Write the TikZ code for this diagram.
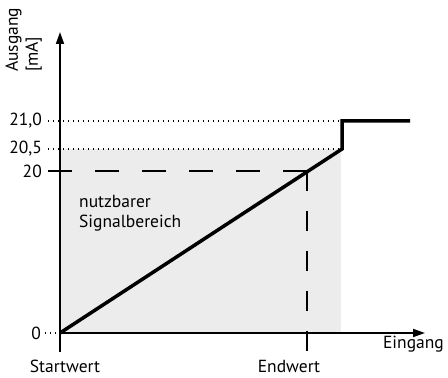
\documentclass[tikz,border=0pt]{standalone}
\usepackage{fontspec}
\setmainfont{PT Sans}
\usetikzlibrary{arrows.meta}
\definecolor{area}{RGB}{235,236,235}

\begin{document}
\begin{tikzpicture}[x=1pt,y=1pt,>={Triangle[length=12pt,width=8pt]}]

\tikzstyle{axis}=[draw=black,line width=1.7pt]
\tikzstyle{curve}=[draw=black,line width=3.5pt,line join=miter]
\tikzstyle{guide}=[draw=black,line width=1.6pt,dash pattern=on 24pt off 23pt]
\tikzstyle{guide v}=[draw=black,line width=1.6pt,dash pattern=on 20pt off 20pt]
\tikzstyle{level}=[draw=black,line width=1.3pt,dash pattern=on 1.3pt off 3.7pt]
\tikzstyle{lbl}=[font=\fontsize{17.5}{20}\selectfont,inner sep=0pt]

\useasboundingbox (0,0) rectangle (448,378);
\fill[area] (60,45) rectangle (341,229);

\coordinate (o)      at (60,45);
\coordinate (ytip)   at (60,346);
\coordinate (xtip)   at (425,45);
\coordinate (tick)   at (60,26);
\coordinate (kneelo) at (342,229);
\coordinate (kneehi) at (342,257);
\coordinate (flat)   at (410,257);
\coordinate (end)    at (307,207);
\coordinate (endlo)  at (307,26);

\node[lbl,anchor=east] (l21)  at (42,257) {21,0};
\node[lbl,anchor=east] (l205) at (42,229) {20,5};
\node[lbl,anchor=east] (l20)  at (42,207) {20};
\node[lbl,anchor=east] (l0)   at (41,45)  {0};

\node[lbl,anchor=south west,rotate=90,align=left] (ylbl) at (42,306) {Ausgang\\{}[mA]};
\node[lbl,anchor=base east]  (xlbl)  at (444,29) {Eingang};
\node[lbl,anchor=base]       (start) at (65,5)   {Startwert};
\node[lbl,anchor=base]       (stop)  at (289,5)  {Endwert};
\node[lbl,anchor=base west]  (use1)  at (79,170) {nutzbarer};
\node[lbl,anchor=base west]  (use2)  at (79,150) {Signalbereich};

\draw[level] ([xshift=6pt]l21.east)  -- (kneehi);
\draw[level] ([xshift=6pt]l205.east) -- (kneelo);
\draw[level] ([xshift=4pt]l0.east)   -- (o);
\draw[guide] ([xshift=6pt]l20.east)  -- (end);
\draw[guide v] (end) -- (endlo);

\draw[axis,->] (tick) -- (ytip);
\draw[axis,->] (o) -- (xtip);
\draw[curve] (o) -- (kneelo) -- (kneehi) -- (flat);
\end{tikzpicture}
\end{document}
